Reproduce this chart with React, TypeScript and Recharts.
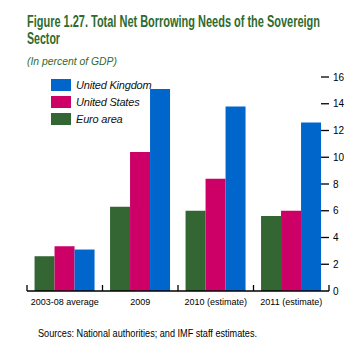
import { Bar, BarChart, XAxis, YAxis } from "recharts";

// Figure 1.27: sovereign net borrowing needs, % of GDP, three economies.

const CATEGORIES = ["2003-08 average", "2009", "2010 (estimate)", "2011 (estimate)"];
const EURO_AREA = [2.6, 6.3, 6.0, 5.6];
const UNITED_STATES = [3.35, 10.4, 8.4, 6.0];
const UNITED_KINGDOM = [3.1, 15.1, 13.8, 12.6];
const Y_TICKS = [0, 2, 4, 6, 8, 10, 12, 14, 16];

const GREEN = "#336633";
const MAGENTA = "#CC0066";
const BLUE = "#0066CC";
const TITLE_GREEN = "#2E6B2E";
const NARROW = "'Liberation Sans Narrow', 'Liberation Sans', sans-serif";

const rows = CATEGORIES.map((name, i) => ({
  name,
  euro: EURO_AREA[i],
  us: UNITED_STATES[i],
  uk: UNITED_KINGDOM[i],
}));

const LEGEND_ITEMS = [
  { label: "United Kingdom", color: BLUE },
  { label: "United States", color: MAGENTA },
  { label: "Euro area", color: GREEN },
];

// title is squeezed horizontally, like the condensed face of the original
const SQUEEZE = 0.68;

function RightTick(props: any) {
  const { x, y, payload } = props;
  return (
    <g>
      {payload.value > 0 && (
        <line x1={x - 12} x2={x - 4} y1={y} y2={y} stroke="#000" strokeWidth={1.3} />
      )}
      <text x={x} y={y} dy={3.5} fontSize={10} fontFamily={NARROW} fill="#000">
        {payload.value}
      </text>
    </g>
  );
}

function LeftTick(props: any) {
  const { x, y, payload } = props;
  if (payload.value <= 0) return null;
  return <line x1={x + 1} x2={x + 8} y1={y} y2={y} stroke="#000" strokeWidth={1.3} />;
}

function CategoryTick(props: any) {
  const { x, y, payload, index } = props;
  const half = payload.offset || 37.75;
  return (
    <g>
      <line x1={x - half} x2={x - half} y1={y - 6} y2={y} stroke="#000" strokeWidth={1.3} />
      {index === CATEGORIES.length - 1 && (
        <line x1={x + half} x2={x + half} y1={y - 6} y2={y} stroke="#000" strokeWidth={1.3} />
      )}
      <text x={x} y={y + 14} textAnchor="middle" fontSize={9} fontFamily={NARROW} fill="#000">
        {payload.value}
      </text>
    </g>
  );
}

export default function App() {
  return (
    <div
      style={{
        position: "absolute",
        left: 0,
        top: 0,
        width: 361,
        height: 353,
        background: "#fff",
        overflow: "hidden",
      }}
    >
      <svg width={361} height={70} style={{ position: "absolute", left: 0, top: 0 }}>
        <text
          transform={`translate(27,26.5) scale(${SQUEEZE},1)`}
          fontFamily={NARROW}
          fontWeight="bold"
          fontSize={16}
          fill={TITLE_GREEN}
          textLength={293 / SQUEEZE}
          lengthAdjust="spacingAndGlyphs"
        >
          Figure 1.27. Total Net Borrowing Needs of the Sovereign
        </text>
        <text
          transform={`translate(27,44) scale(${SQUEEZE},1)`}
          fontFamily={NARROW}
          fontWeight="bold"
          fontSize={16}
          fill={TITLE_GREEN}
          textLength={33 / SQUEEZE}
          lengthAdjust="spacingAndGlyphs"
        >
          Sector
        </text>
        <text
          x={27}
          y={64.5}
          fontFamily={NARROW}
          fontStyle="italic"
          fontSize={11}
          fill={TITLE_GREEN}
          textLength={90}
          lengthAdjust="spacingAndGlyphs"
        >
          (In percent of GDP)
        </text>
      </svg>
      <div style={{ position: "absolute", left: 0, top: 0 }}>
        <BarChart
          width={361}
          height={320}
          data={rows}
          margin={{ top: 77, right: 0, bottom: 0, left: 0 }}
          barGap={0}
          barCategoryGap="10%"
        >
          <XAxis
            dataKey="name"
            height={29}
            axisLine={{ stroke: "#000", strokeWidth: 1.5 }}
            tickLine={false}
            tickSize={0}
            tickMargin={0}
            tick={<CategoryTick />}
            interval={0}
          />
          <YAxis
            yAxisId="left"
            orientation="left"
            width={27}
            domain={[0, 16]}
            ticks={Y_TICKS}
            interval={0}
            axisLine={false}
            tickLine={false}
            tickSize={0}
            tickMargin={0}
            tick={<LeftTick />}
          />
          <YAxis
            yAxisId="right"
            orientation="right"
            width={32}
            domain={[0, 16]}
            ticks={Y_TICKS}
            interval={0}
            axisLine={false}
            tickLine={false}
            tickSize={0}
            tickMargin={4}
            tick={<RightTick />}
          />
          <Bar yAxisId="right" dataKey="euro" name="Euro area" fill={GREEN} isAnimationActive={false} />
          <Bar yAxisId="right" dataKey="us" name="United States" fill={MAGENTA} isAnimationActive={false} />
          <Bar yAxisId="right" dataKey="uk" name="United Kingdom" fill={BLUE} isAnimationActive={false} />
        </BarChart>
      </div>
      <div style={{ position: "absolute", left: 51, top: 76 }}>
        {LEGEND_ITEMS.map((it) => (
          <div key={it.label} style={{ display: "flex", alignItems: "center", height: 17 }}>
            <span style={{ width: 20, height: 12, background: it.color, display: "inline-block" }} />
            <span
              style={{
                marginLeft: 5,
                fontFamily: NARROW,
                fontStyle: "italic",
                fontSize: 11,
                letterSpacing: -0.2,
                color: "#111",
              }}
            >
              {it.label}
            </span>
          </div>
        ))}
      </div>
      <svg width={361} height={30} style={{ position: "absolute", left: 0, top: 320 }}>
        <text
          x={38}
          y={16.5}
          fontFamily={NARROW}
          fontSize={10.5}
          fill="#000"
          textLength={219}
          lengthAdjust="spacingAndGlyphs"
        >
          Sources: National authorities; and IMF staff estimates.
        </text>
      </svg>
    </div>
  );
}
